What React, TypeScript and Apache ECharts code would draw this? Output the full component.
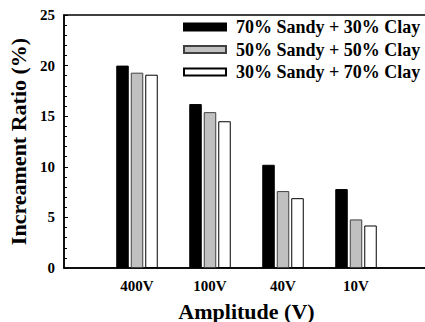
import React, { useEffect, useRef } from "react";
import * as echarts from "echarts";

const categories = ["400V", "100V", "40V", "10V"];
const seriesNames = ["70% Sandy + 30% Clay", "50% Sandy + 50% Clay", "30% Sandy + 70% Clay"];
const sandy70 = [20.0, 16.2, 10.2, 7.8];
const sandy50 = [19.3, 15.4, 7.6, 4.8];
const sandy30 = [19.1, 14.5, 6.9, 4.2];

const FONT = "Liberation Serif, DejaVu Serif, serif";

export default function App() {
  const ref = useRef<HTMLDivElement>(null);
  useEffect(() => {
    if (!ref.current) return;
    const chart = echarts.init(ref.current, undefined, { renderer: "svg" });
    const pad = (arr: number[]) => ["-", ...arr, "-"];
    const styles = [
      { color: "#000000", borderColor: "#000000", borderWidth: 1 },
      { color: "#c0c0c0", borderColor: "#404040", borderWidth: 1 },
      { color: "#ffffff", borderColor: "#000000", borderWidth: 1 },
    ];
    const values = [sandy70, sandy50, sandy30];
    chart.setOption({
      animation: false,
      backgroundColor: "#ffffff",
      textStyle: { fontFamily: FONT },
      grid: {
        left: 64,
        top: 15,
        bottom: 54,
        right: -4,
        show: true,
        borderColor: "#000",
        borderWidth: 1.5,
        backgroundColor: "transparent",
        containLabel: false,
        outerBoundsMode: "none",
      },
      legend: {
        orient: "vertical",
        left: 183,
        top: 18,
        padding: 0,
        itemWidth: 42,
        itemHeight: 7,
        itemGap: 4.5,
        icon: "rect",
        data: seriesNames,
        textStyle: {
          fontFamily: FONT,
          fontWeight: "bold",
          fontSize: 18,
          lineHeight: 18,
          color: "#000",
          padding: [0, 0, 0, 5],
        },
      },
      xAxis: {
        type: "category",
        data: ["", ...categories, ""],
        boundaryGap: false,
        axisTick: { show: false },
        axisLine: { lineStyle: { color: "#000", width: 1.5 } },
        axisLabel: {
          fontFamily: FONT,
          fontWeight: "bold",
          fontSize: 15,
          color: "#000",
          margin: 10,
          interval: 0,
        },
        name: "Amplitude (V)",
        nameLocation: "middle",
        nameGap: 32,
        nameTextStyle: { fontFamily: FONT, fontWeight: "bold", fontSize: 22, color: "#000" },
        splitLine: { show: false },
      },
      yAxis: {
        type: "value",
        min: 0,
        max: 25,
        interval: 5,
        axisLine: { show: true, lineStyle: { color: "#000", width: 1.5 } },
        axisTick: { show: true, inside: true, length: 4, lineStyle: { color: "#000" } },
        minorTick: { show: true, splitNumber: 5, length: 3, lineStyle: { color: "#000" } },
        splitLine: { show: false },
        axisLabel: {
          fontFamily: FONT,
          fontWeight: "bold",
          fontSize: 15,
          color: "#000",
          margin: 9,
        },
        name: "Increament Ratio (%)",
        nameLocation: "middle",
        nameGap: 33,
        nameTextStyle: { fontFamily: FONT, fontWeight: "bold", fontSize: 22, color: "#000" },
      },
      series: seriesNames.map((name, i) => ({
        name,
        type: "bar",
        data: pad(values[i]),
        barWidth: 12.5,
        barGap: "16%",
        itemStyle: styles[i],
      })),
    });
    return () => chart.dispose();
  }, []);
  return <div ref={ref} style={{ width: 425, height: 322, position: "absolute", left: 0, top: 0 }} />;
}
